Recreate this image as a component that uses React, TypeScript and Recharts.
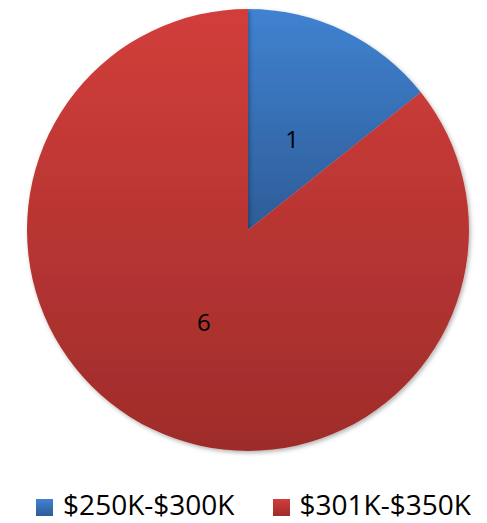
import { PieChart, Pie, Cell, Legend } from "recharts";

const categories = ["$250K-$300K", "$301K-$350K"];
const counts = [1, 6];

const data = categories.map((name, i) => ({ name, value: counts[i] }));

const gradients = [
  { id: "gBlue", top: "#4082d1", bottom: "#2d5c97" },
  { id: "gRed", top: "#d23e3b", bottom: "#9e2c2a" },
];

const FONT = "'Open Sans', Calibri, sans-serif";
const RADIAN = Math.PI / 180;

function renderLabel(props: any) {
  const { cx, cy, midAngle, outerRadius, value } = props;
  const r = outerRadius * 0.46;
  const x = cx + r * Math.cos(-midAngle * RADIAN);
  const y = cy + r * Math.sin(-midAngle * RADIAN);
  return (
    <text x={x} y={y} textAnchor="middle" dominantBaseline="central" fontSize={24} fontFamily={FONT} fill="#000">
      {value}
    </text>
  );
}

function LegendContent() {
  return (
    <div style={{ display: "flex", justifyContent: "center", gap: 38, fontFamily: FONT, fontSize: 28, color: "#000", paddingLeft: 20 }}>
      {categories.map((c, i) => (
        <div key={c} style={{ display: "flex", alignItems: "center", gap: 10 }}>
          <svg width={17} height={17} style={{ marginTop: 6 }}>
            <defs>
              <linearGradient id={"lg" + i} x1="0" y1="0" x2="0" y2="1">
                <stop offset="0%" stopColor={gradients[i].top} />
                <stop offset="100%" stopColor={gradients[i].bottom} />
              </linearGradient>
            </defs>
            <rect width={17} height={17} fill={`url(#lg${i})`} />
          </svg>
          <span style={{ lineHeight: "30px" }}>{c}</span>
        </div>
      ))}
    </div>
  );
}

export default function App() {
  return (
    <div style={{ position: "absolute", left: 0, top: 0, width: 487, height: 523, background: "#fff" }}>
      <PieChart width={487} height={523} margin={{ top: 0, right: 0, bottom: 0, left: 0 }}>
        <defs>
          {gradients.map((g) => (
            <linearGradient key={g.id} id={g.id} x1="0" y1="0" x2="0" y2="1">
              <stop offset="0%" stopColor={g.top} />
              <stop offset="100%" stopColor={g.bottom} />
            </linearGradient>
          ))}
          <filter id="shadow" x="-10%" y="-10%" width="120%" height="120%">
            <feDropShadow dx="1.5" dy="2" stdDeviation="2" floodColor="#000" floodOpacity="0.3" />
          </filter>
        </defs>
        <Pie
          data={data}
          dataKey="value"
          nameKey="name"
          cx={248}
          cy={230}
          outerRadius={221}
          startAngle={90}
          endAngle={-270}
          stroke="none"
          label={renderLabel}
          labelLine={false}
          isAnimationActive={false}
          style={{ filter: "url(#shadow)" }}
        >
          {data.map((d, i) => (
            <Cell key={d.name} fill={`url(#${gradients[i].id})`} />
          ))}
        </Pie>
        <Legend verticalAlign="bottom" content={<LegendContent />} wrapperStyle={{ bottom: 4 }} />
      </PieChart>
    </div>
  );
}
